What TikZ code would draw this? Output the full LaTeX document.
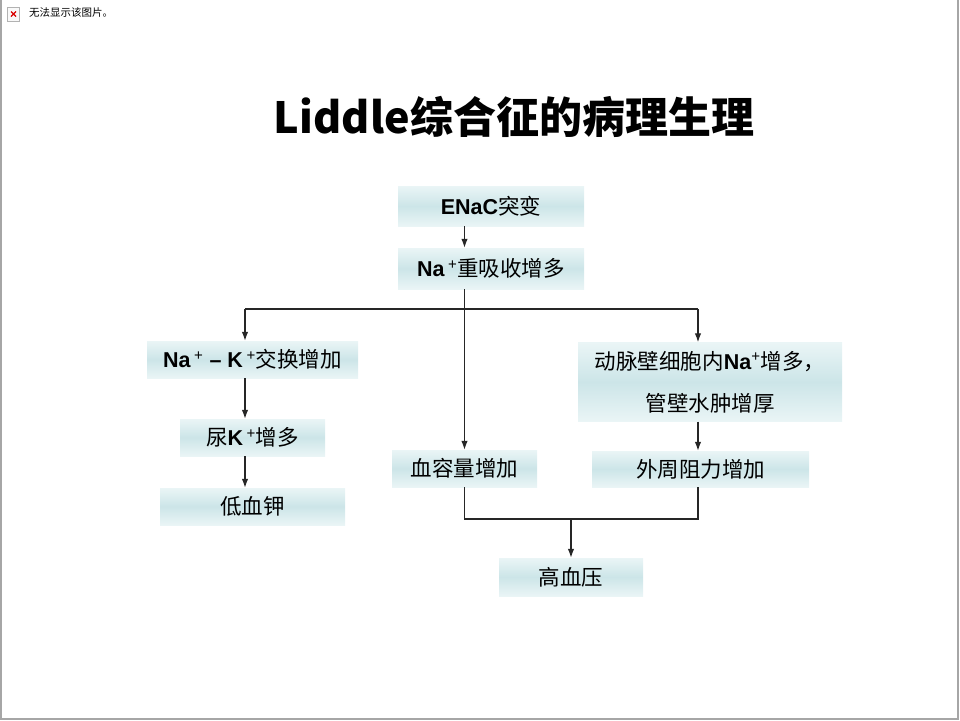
\documentclass[tikz,border=0pt]{standalone}
\usepackage{fontspec}
\usetikzlibrary{arrows.meta}
\setmainfont{Liberation Sans}
\newfontfamily\cjk{Noto Sans CJK SC}
\definecolor{boxmid}{HTML}{CCE5E8}
\definecolor{boxedge}{HTML}{EAF5F6}
\definecolor{linegray}{HTML}{262626}
\newcommand{\zh}[1]{{\cjk #1}}
\newcommand{\ionp}[2]{{\bfseries #1}\,\textsuperscript{#2}}

\begin{document}
\begin{tikzpicture}[x=1pt, y=-1pt, font=\fontsize{21.5}{26}\selectfont]
\tikzstyle{block} = [rectangle, top color=boxedge, bottom color=boxedge, middle color=boxmid,
                     minimum height=37pt, inner sep=0pt]
\tikzstyle{line} = [draw, -{Latex[length=9pt,width=6.5pt]}, line width=1.2pt, color=linegray]
\tikzstyle{wire} = [draw, line width=1.2pt, color=linegray]

\useasboundingbox (0,0) rectangle (960,720);
\draw [gray!70, line width=2pt] (0.5,0) -- (0.5,718.5) -- (958,718.5) -- (958,0);

% missing picture notice
\node [draw=gray!60, fill=gray!5, minimum width=12pt, minimum height=14pt, inner sep=0pt] (icon) at (13.5,14) {};
\draw [red!85!black, line width=1.4pt] (11,11.5) -- (16,16.5) (11,16.5) -- (16,11.5);
\node [anchor=west, inner sep=0pt, font=\cjk\fontsize{10.5}{12}\selectfont] (notice) at (29,13) {无法显示该图片。};

\node (title) at (514,117) {\cjk\bfseries\fontsize{43}{50}\selectfont Liddle综合征的病理生理};

\node [block, minimum width=186pt, minimum height=40pt] (enac) at (491,206) {{\bfseries ENaC}\zh{突变}};
\node [block, minimum width=186pt, minimum height=41pt] (rebs) at (491,268.5) {\ionp{Na}{+}\zh{重吸收增多}};
\node [block, minimum width=211pt] (exch) at (252.5,359.5) {\ionp{Na}{+}\ {\bfseries --}\ \ionp{K}{+}\zh{交换增加}};
\node [block, minimum width=145pt] (urink) at (252.5,437.5) {\zh{尿}\ionp{K}{+}\zh{增多}};
\node [block, minimum width=185pt] (lowk) at (252.5,506.5) {\zh{低血钾}};
\node [block, minimum width=145pt] (vol) at (464.5,468.5) {\zh{血容量增加}};
\node [block, minimum width=264pt, minimum height=79pt, align=center] (wall) at (710,382)
      {\zh{动脉壁细胞内}{\bfseries Na}\textsuperscript{+}\zh{增多，}\\[16pt]\zh{管壁水肿增厚}};
\node [block, minimum width=217pt, minimum height=36pt] (resist) at (700.5,469) {\zh{外周阻力增加}};
\node [block, minimum width=144pt, minimum height=38pt] (hbp) at (571,577) {\zh{高血压}};

\coordinate (lbr) at (245,309);
\coordinate (rbr) at (698,309);
\coordinate (join) at (571,519);

\path [line] (enac.south -| vol) -- (rebs.north -| vol);
\path [line] (rebs.south -| vol) -- (vol.north);
\path [wire] (lbr) -- (rbr);
\path [line] (lbr) -- (lbr |- exch.north);
\path [line] (rbr) -- (rbr |- wall.north);
\path [line] (lbr |- exch.south) -- (lbr |- urink.north);
\path [line] (lbr |- urink.south) -- (lbr |- lowk.north);
\path [line] (rbr |- wall.south) -- (rbr |- resist.north);
\path [wire] (vol.south) -- (vol.south |- join) -- (rbr |- join) -- (rbr |- resist.south);
\path [line] (join) -- (hbp.north);
\end{tikzpicture}
\end{document}
